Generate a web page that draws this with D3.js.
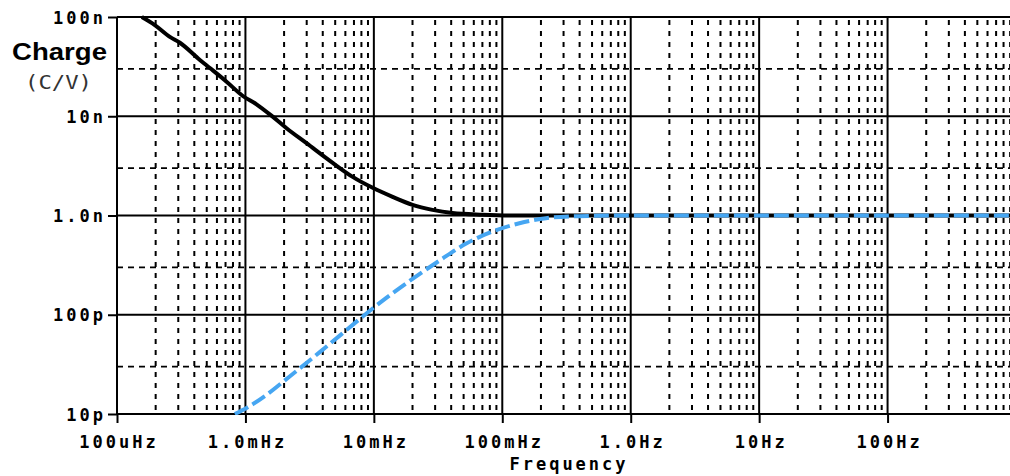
<!DOCTYPE html>
<html><head><meta charset="utf-8">
<script src="https://cdn.jsdelivr.net/npm/d3@7"></script>
<style>html,body{margin:0;padding:0;background:#fff;overflow:hidden}</style>
</head><body>
<script>
// ---- data ----
const xTickValues = [1e-4, 1e-3, 1e-2, 1e-1, 1, 10, 100];
const xTickLabels = ["100uHz", "1.0mHz", "10mHz", "100mHz", "1.0Hz", "10Hz", "100Hz"];
const yTickValues = [1e-7, 1e-8, 1e-9, 1e-10, 1e-11];
const yTickLabels = ["100n", "10n", "1.0n", "100p", "10p"];

// black solid trace
const blackFreq = [1.56e-4, 1.97e-4, 2.58e-4, 3.09e-4, 4.42e-4, 5.29e-4, 7.13e-4, 9.55e-4, 1.22e-3, 1.63e-3,
  2.09e-3, 2.99e-3, 4.78e-3, 6.84e-3, 9.8e-3, 1.4e-2, 2.0e-2, 2.86e-2, 4.1e-2, 7.0e-2, 0.129, 0.3, 1, 10, 100, 1000];
const blackQ = [100e-9, 83e-9, 63e-9, 55e-9, 36.9e-9, 30.6e-9, 22.3e-9, 16.0e-9, 13.2e-9, 9.9e-9,
  7.57e-9, 5.35e-9, 3.39e-9, 2.45e-9, 1.90e-9, 1.54e-9, 1.28e-9, 1.14e-9, 1.06e-9, 1.02e-9, 1.0e-9, 1.0e-9, 1.0e-9, 1.0e-9, 1.0e-9, 1.0e-9];

// blue dashed trace
const blueFreq = [8.27e-4, 1.02e-3, 1.46e-3, 2.21e-3, 3.79e-3, 6.11e-3, 8.75e-3, 1.25e-2, 2.0e-2, 3.25e-2,
  5.24e-2, 8.4e-2, 0.136, 0.219, 0.398, 1, 10, 100, 1000];
const blueQ = [10e-12, 11.5e-12, 15.6e-12, 23.9e-12, 42e-12, 70e-12, 103e-12, 148e-12, 230e-12, 352e-12,
  522e-12, 689e-12, 836e-12, 940e-12, 985e-12, 1.0e-9, 1.0e-9, 1.0e-9, 1.0e-9];

// ---- layout ----
const W = 1010, H = 476;
const pLeft = 117, pTop = 17, pBottom = 414, pRight = 1016;
const svg = d3.select("body").append("svg").attr("width", W).attr("height", H);

const x = d3.scaleLog().domain([1e-4, 1e3]).range([pLeft, pRight]);
const y = d3.scaleLog().domain([1e-11, 1e-7]).range([pBottom, pTop]);

const g = svg.append("g");

// minor vertical dotted grid
const minorX = [];
for (let d = -4; d <= 2; d++) for (let k = 2; k <= 9; k++) minorX.push(k * Math.pow(10, d));
g.selectAll("line.mx").data(minorX).join("line")
  .attr("x1", d => x(d)).attr("x2", d => x(d))
  .attr("y1", pTop + 3).attr("y2", pBottom)
  .attr("stroke", "#000").attr("stroke-width", 2).attr("stroke-dasharray", "5,6");

// minor horizontal dashed grid (3x)
const minorY = [3e-8, 3e-9, 3e-10, 3e-11];
g.selectAll("line.my").data(minorY).join("line")
  .attr("x1", pLeft).attr("x2", W)
  .attr("y1", d => y(d)).attr("y2", d => y(d))
  .attr("stroke", "#000").attr("stroke-width", 1.6).attr("stroke-dasharray", "6,5");

// major grid
g.selectAll("line.Mx").data(xTickValues).join("line")
  .attr("x1", d => x(d)).attr("x2", d => x(d))
  .attr("y1", pTop).attr("y2", pBottom)
  .attr("stroke", "#000").attr("stroke-width", 2);
g.selectAll("line.My").data(yTickValues).join("line")
  .attr("x1", pLeft).attr("x2", W)
  .attr("y1", d => y(d)).attr("y2", d => y(d))
  .attr("stroke", "#000").attr("stroke-width", 2);

// axes
const mono = "'DejaVu Sans Mono', monospace";
const xAxis = d3.axisBottom(x).tickValues(xTickValues)
  .tickFormat((d, i) => xTickLabels[i]).tickSize(9).tickSizeOuter(0);
const xg = svg.append("g").attr("transform", `translate(0,${pBottom})`).call(xAxis);
xg.select(".domain").attr("stroke", "#000").attr("stroke-width", 2)
  .attr("d", `M${pLeft},0H${W}`);
xg.selectAll(".tick line").attr("stroke", "#000").attr("stroke-width", 2);
xg.selectAll(".tick text").attr("y", 34).attr("dy", 0).attr("dx", 1.5)
  .attr("fill", "#000").style("font-family", mono).style("font-size", "17px")
  .style("font-weight", "bold").style("letter-spacing", "3px");

const yAxis = d3.axisLeft(y).tickValues(yTickValues)
  .tickFormat((d, i) => yTickLabels[i]).tickSize(9).tickSizeOuter(0);
const yg = svg.append("g").attr("transform", `translate(${pLeft},0)`).call(yAxis);
yg.select(".domain").attr("stroke", "#000").attr("stroke-width", 2)
  .attr("d", `M0,${pTop}V${pBottom}`);
yg.selectAll(".tick line").attr("stroke", "#000").attr("stroke-width", 2);
yg.selectAll(".tick text").attr("x", -11).attr("dy", "0.36em")
  .attr("fill", "#000").style("font-family", mono).style("font-size", "17px")
  .style("font-weight", "bold").style("letter-spacing", "3px");

// clip
svg.append("clipPath").attr("id", "clip").append("rect")
  .attr("x", pLeft).attr("y", pTop - 3).attr("width", W - pLeft).attr("height", pBottom - pTop + 4);

const line = d3.line().x(d => x(d[0])).y(d => y(d[1])).curve(d3.curveMonotoneX);
const plot = svg.append("g").attr("clip-path", "url(#clip)");
plot.append("path").datum(d3.zip(blackFreq, blackQ)).attr("d", line)
  .attr("fill", "none").attr("stroke", "#000").attr("stroke-width", 4).attr("stroke-linejoin", "round");
plot.append("path").datum(d3.zip(blueFreq, blueQ)).attr("d", line)
  .attr("fill", "none").attr("stroke", "#46a6f2").attr("stroke-width", 4).attr("stroke-dasharray", "15,5");

// titles
svg.append("text").attr("x", 12).attr("y", 60).attr("textLength", 95).attr("lengthAdjust", "spacingAndGlyphs")
  .style("font-family", "'Liberation Sans', Arial, sans-serif").style("font-size", "24px")
  .style("font-weight", "bold").attr("fill", "#000").text("Charge");
svg.append("text").attr("x", 25).attr("y", 89).attr("textLength", 67).attr("lengthAdjust", "spacingAndGlyphs")
  .style("font-family", mono).style("font-size", "20px").attr("fill", "#333").text("(C/V)");
svg.append("text").attr("x", 569).attr("y", 470).attr("text-anchor", "middle")
  .style("font-family", mono).style("font-size", "17px").style("font-weight", "bold")
  .style("letter-spacing", "3px").attr("fill", "#000").text("Frequency");
</script>
</body></html>
